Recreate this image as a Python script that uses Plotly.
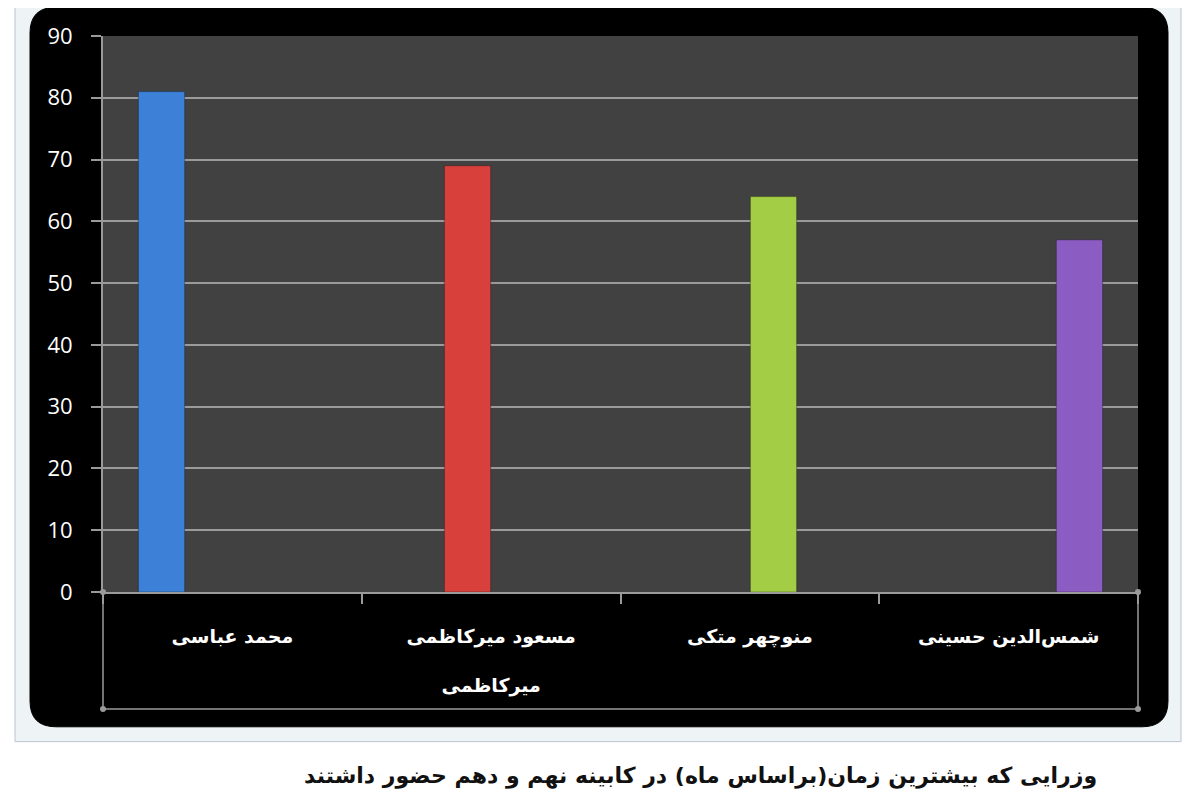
import plotly.graph_objects as go

# Ministers with the longest time (months) in the 9th and 10th cabinets
ministers = ["محمد عباسی", "مسعود میرکاظمی<br><br>میرکاظمی", "منوچهر متکی", "شمس‌الدین حسینی"]
months = [81, 69, 64, 57]
bar_colors = ["#3c80d8", "#d8403c", "#a3cd45", "#8b5cc2"]
y_ticks = [0, 10, 20, 30, 40, 50, 60, 70, 80, 90]

title_text = "وزرایی که بیشترین زمان(براساس ماه) در کابینه نهم و دهم حضور داشتند"

# the page puts the figure 8px in from the window corner
OFF = 8
W, H = 1200 - OFF, 800 - OFF
# plot area on screen: x 103..1138, y 31..592
SX0, SX1, SY0, SY1 = 103, 1138, 31, 592
L, T = SX0 - OFF, SY0 - OFF
R, B = W - (SX1 - OFF), H - (SY1 - OFF)
pw, ph = SX1 - SX0, SY1 - SY0


def px_x(v):
    return (v - SX0) / pw


def px_y(v):
    return (SY1 - v) / ph


fig = go.Figure()
for i, (name, val, col) in enumerate(zip(ministers, months, bar_colors)):
    fig.add_trace(go.Bar(x=[name], y=[val], name=name.replace("<br><br>", " "),
                         offsetgroup=str(i),
                         marker=dict(color=col, line=dict(color="rgba(0,0,0,0.3)", width=1))))

shapes = []
# outer light frame
shapes.append(dict(type="rect", xref="paper", yref="paper", layer="below",
                   x0=px_x(15), x1=px_x(1181), y0=px_y(743), y1=px_y(-5),
                   fillcolor="#eef3f6", line=dict(color="#b9c3cc", width=1)))
# black rounded panel
x0, x1, y0, y1 = px_x(30), px_x(1168), px_y(728), px_y(2)
rx, ry = 26 / pw, 26 / ph
path = (f"M {x0 + rx},{y1} L {x1 - rx},{y1} Q {x1},{y1} {x1},{y1 - ry} "
        f"L {x1},{y0 + ry} Q {x1},{y0} {x1 - rx},{y0} L {x0 + rx},{y0} "
        f"Q {x0},{y0} {x0},{y0 + ry} L {x0},{y1 - ry} Q {x0},{y1} {x0 + rx},{y1} Z")
shapes.append(dict(type="path", xref="paper", yref="paper", layer="below", path=path,
                   fillcolor="#000000", line=dict(color="#000000", width=1)))
# plot area
shapes.append(dict(type="rect", xref="paper", yref="paper", layer="below",
                   x0=0, x1=1, y0=0, y1=1, fillcolor="#414141", line=dict(width=0)))
# bottom label box
box_y = px_y(710)
for sx0, sy0, sx1, sy1 in [(0, 0, 0, box_y), (1, 0, 1, box_y), (0, box_y, 1, box_y)]:
    shapes.append(dict(type="line", xref="paper", yref="paper", x0=sx0, y0=sy0, x1=sx1, y1=sy1,
                       line=dict(color="#9a9a9a", width=1.5)))
for cx, cy in [(0, 0), (1, 0), (0, box_y), (1, box_y)]:
    shapes.append(dict(type="circle", xref="paper", yref="paper",
                       x0=cx - 3 / pw, x1=cx + 3 / pw, y0=cy - 3 / ph, y1=cy + 3 / ph,
                       fillcolor="#9a9a9a", line=dict(width=0)))
fig.update_layout(shapes=shapes)

fig.update_layout(
    width=W, height=H,
    margin=dict(l=L, r=R, t=T, b=B),
    paper_bgcolor="white",
    plot_bgcolor="rgba(0,0,0,0)",
    barmode="group",
    bargap=0.27,
    bargroupgap=0.02,
    showlegend=False,
    annotations=[dict(text=f"<b>{title_text}</b>", xref="paper", yref="paper",
                      x=px_x(700), y=px_y(778), xanchor="center", yanchor="middle",
                      showarrow=False,
                      font=dict(family="DejaVu Sans", size=22, color="#111111"))],
)
fig.update_xaxes(
    type="category", categoryorder="array", categoryarray=ministers,
    showline=True, linecolor="#9a9a9a", linewidth=2,
    ticks="outside", tickson="boundaries", ticklen=10, tickcolor="#9a9a9a", tickwidth=1.5,
    ticklabelstandoff=26, showgrid=False,
    tickfont=dict(family="DejaVu Sans", size=19, color="white", weight="bold"),
)
fig.update_yaxes(
    range=[0, 90], tickvals=y_ticks,
    showline=True, linecolor="#9a9a9a", linewidth=2,
    ticks="outside", ticklen=10, tickcolor="#9a9a9a", tickwidth=2,
    showgrid=True, gridcolor="#9a9a9a", gridwidth=2,
    zeroline=False, ticklabelstandoff=14,
    tickfont=dict(family="Open Sans", size=22, color="white"),
)

fig.write_html("out.html")
